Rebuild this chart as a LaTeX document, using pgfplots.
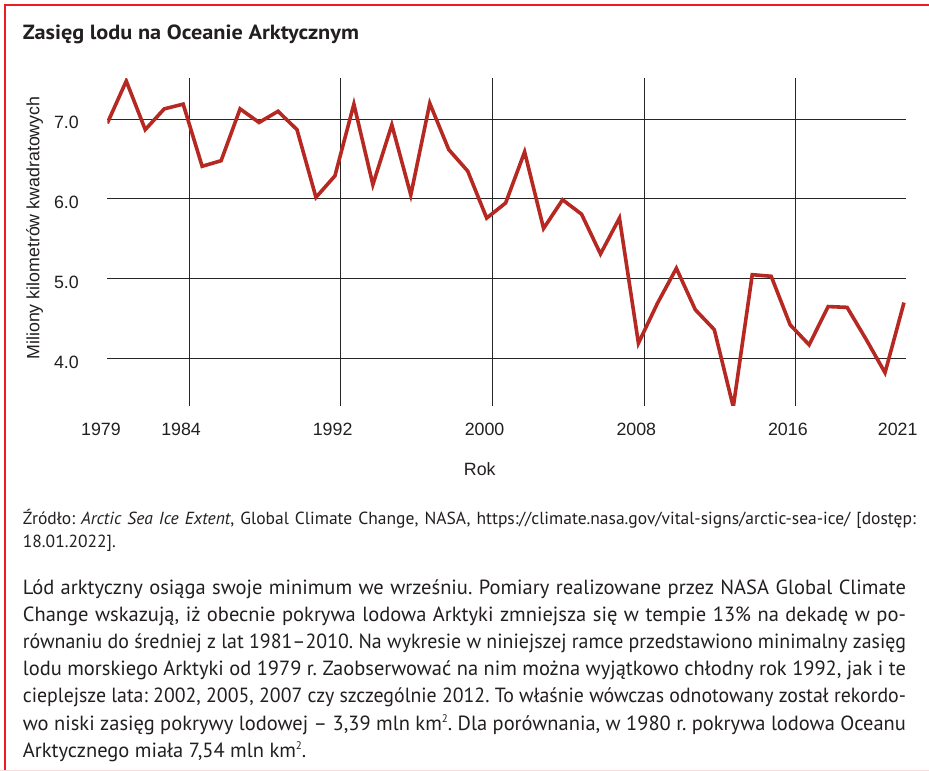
\documentclass[border=0pt]{standalone}
\usepackage{pgfplots}
\pgfplotsset{compat=1.18}
\usepackage{fontspec}
\setmainfont{Liberation Sans}
\newfontfamily\myr{PT Sans}
\definecolor{linered}{RGB}{182,40,34}
\definecolor{borderred}{RGB}{237,28,36}
\definecolor{txt}{RGB}{35,31,32}
\frenchspacing
\newlength\jl
\newcommand\jline[2]{\settowidth\jl{#2}\ifdim\jl>#1\relax\resizebox{#1}{\height}{#2}\else\makebox[#1][s]{#2}\fi}
\newcommand\sq{\raisebox{0.75ex}{\fontsize{11}{11}\selectfont 2}}
\pgfplotstableread{
year value
1979 6.95
1980 7.48
1981 6.87
1982 7.13
1983 7.19
1984 6.41
1985 6.48
1986 7.13
1987 6.96
1988 7.10
1989 6.87
1990 6.02
1991 6.29
1992 7.19
1993 6.18
1994 6.93
1995 6.05
1996 7.20
1997 6.62
1998 6.35
1999 5.76
2000 5.95
2001 6.59
2002 5.63
2003 5.99
2004 5.81
2005 5.31
2006 5.76
2007 4.19
2008 4.69
2009 5.13
2010 4.61
2011 4.36
2012 3.39
2013 5.05
2014 5.03
2015 4.42
2016 4.17
2017 4.65
2018 4.64
2019 4.24
2020 3.82
2021 4.70
}\icedata
\begin{document}
\begin{tikzpicture}[x=1pt,y=-1pt]
\path[use as bounding box] (0,0) rectangle (929,771);
\fill[white] (0,0) rectangle (929,771);
\draw[borderred, line width=2.2pt] (5,771) -- (5,5) -- (929,5);
\draw[borderred!15, line width=1pt] (0,770.5) -- (929,770.5);
% title
\node[anchor=base west, inner sep=0pt, text=txt] at (22.7,39.3)
  {\resizebox{336pt}{\height}{\myr\bfseries\fontsize{20.5}{24}\selectfont Zasięg lodu na Oceanie Arktycznym}};
\begin{axis}[
  at={(107.3pt,-405.7pt)}, anchor=south west,
  width=798.4pt, height=327.4pt, scale only axis,
  xmin=1979, xmax=2021.09, ymin=3.406, ymax=7.514,
  axis line style={draw=none},
  major tick length=0pt,
  xtick={1983.31,1991.30,1999.31,2007.31,2015.30},
  xticklabels={1984,1992,2000,2008,2016},
  extra x ticks={1979,2021},
  extra x tick labels={1979,2021},
  extra x tick style={grid=none, xticklabel style={xshift=1.7pt}},
  ytick={4,5,6,7},
  yticklabels={4.0,5.0,6.0,7.0},
  xmajorgrids, ymajorgrids,
  grid style={draw=black!85, line width=1pt},
  tick label style={font=\fontsize{17.8}{20}\selectfont, text=txt, inner sep=0pt},
  xticklabel style={anchor=base, yshift=-30pt, xshift=-8pt},
  yticklabel style={anchor=base east, yshift=-9.7pt, xshift=-28.3pt},
]
\addplot[linered, line width=3.6pt, line join=miter] table[x=year, y=value] {\icedata};
\end{axis}
\node[rotate=90, anchor=base, inner sep=0pt, text=txt, font=\fontsize{17.8}{20}\selectfont] at (39.3,228) {Miliony kilometrów kwadratowych};
\node[anchor=base, inner sep=0pt, text=txt, font=\fontsize{17.8}{20}\selectfont] at (479.8,475) {Rok};
% source
\begin{scope}[every node/.style={anchor=base west, inner sep=0pt, text=txt, font=\myr\fontsize{17.5}{20}\selectfont}]
\node at (22.7,524) {\jline{893pt}{Źródło: \textit{Arctic Sea Ice Extent}, Global Climate Change, NASA, https://climate.nasa.gov/vital-signs/arctic-sea-ice/ [dostęp:}};
\node at (22.7,547) {18.01.2022].};
\end{scope}
% body
\begin{scope}[every node/.style={anchor=base west, inner sep=0pt, text=txt, font=\myr\fontsize{20.5}{24}\selectfont}]
\node at (22.7,594) {\jline{883pt}{Lód arktyczny osiąga swoje minimum we wrześniu. Pomiary realizowane przez NASA Global Climate}};
\node at (22.7,621.2) {\jline{883pt}{Change wskazują, iż obecnie pokrywa lodowa Arktyki zmniejsza się w tempie 13\% na dekadę w po-}};
\node at (22.7,648.4) {\jline{883pt}{równaniu do średniej z lat 1981–2010. Na wykresie w niniejszej ramce przedstawiono minimalny zasięg}};
\node at (22.7,675.6) {\jline{883pt}{lodu morskiego Arktyki od 1979 r. Zaobserwować na nim można wyjątkowo chłodny rok 1992, jak i te}};
\node at (22.7,702.8) {\jline{883pt}{cieplejsze lata: 2002, 2005, 2007 czy szczególnie 2012. To właśnie wówczas odnotowany został rekordo-}};
\node at (22.7,730.0) {\jline{883pt}{wo niski zasięg pokrywy lodowej – 3,39 mln km\sq. Dla porównania, w 1980 r. pokrywa lodowa Oceanu}};
\node at (22.7,757.2) {Arktycznego miała 7,54 mln km\sq.};
\end{scope}
\end{tikzpicture}
\end{document}
